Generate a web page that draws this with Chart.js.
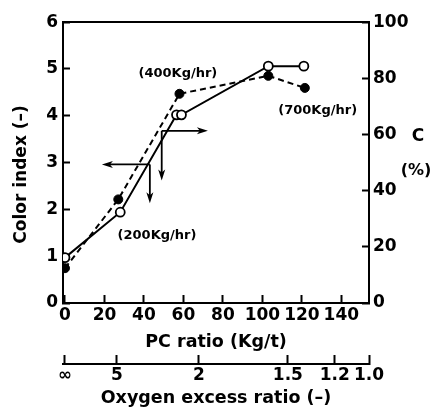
<!DOCTYPE html>
<html>
<head>
<meta charset="utf-8">
<script src="https://cdn.jsdelivr.net/npm/chart.js@4/dist/chart.umd.min.js"></script>
<style>
html, body { margin:0; padding:0; background:#fff; }
#wrap { width:432px; height:407px; }
</style>
</head>
<body>
<div id="wrap"><canvas id="chart"></canvas></div>
<script>
// open circles, solid line -> Color index (left axis)
const openPC = [0, 28, 56.5, 59, 103, 121];
const openColor = [0.97, 1.94, 4.02, 4.02, 5.06, 5.06];
// filled circles, dashed line -> C (%) (right axis)
const fullPC = [0, 27, 58, 103, 121.5];
const fullC = [12.4, 36.9, 74.5, 80.9, 76.6];

const pcTicks = [0, 20, 40, 60, 80, 100, 120, 140];
const colorTicks = [0, 1, 2, 3, 4, 5, 6];
const cTicks = [0, 20, 40, 60, 80, 100];
// oxygen excess ratio scale, placed against PC ratio
const oxygenPos = [0, 26.3, 67.8, 112.9, 136.7, 154];
const oxygenLabels = ['\u221e', '5', '2', '1.5', '1.2', '1.0'];

const notes = [
    { text:'(400Kg/hr)', x:57.2, y:4.91 },
    { text:'(700Kg/hr)', x:128, y:4.1 },
    { text:'(200Kg/hr)', x:46.6, y:1.45 }
];
const arrows = [
    { axis:'y2', x0:49, y0:61.3, x1:72.4, y1:61.3 },
    { axis:'y2', x0:49, y0:61.3, x1:49, y1:43.6 },
    { axis:'y', x0:43, y0:2.96, x1:18.7, y1:2.96 },
    { axis:'y', x0:43, y0:2.96, x1:43, y1:2.13 }
];

const FAM = 'DejaVu Sans';
const tickFont = { family:FAM, size:17, weight:'bold' };
const titleFont = { family:FAM, size:17.5, weight:'bold', lineHeight:1 };

function inwardGrid(len) {
    return { drawOnChartArea:false, drawTicks:true, tickLength:-len, tickWidth:2, tickColor:'#000' };
}
const border = { display:true, color:'#000', width:2 };

const extras = {
    id:'extras',
    afterDatasetsDraw(chart) {
        const ctx = chart.ctx;
        const xs = chart.scales.x;
        ctx.save();
        ctx.strokeStyle = '#000';
        ctx.fillStyle = '#000';
        ctx.lineWidth = 1.8;
        arrows.forEach(a => {
            const ys = chart.scales[a.axis];
            const px0 = xs.getPixelForValue(a.x0), py0 = ys.getPixelForValue(a.y0);
            const px1 = xs.getPixelForValue(a.x1), py1 = ys.getPixelForValue(a.y1);
            const ang = Math.atan2(py1 - py0, px1 - px0);
            ctx.beginPath();
            ctx.moveTo(px0, py0);
            ctx.lineTo(px1 - 6 * Math.cos(ang), py1 - 6 * Math.sin(ang));
            ctx.stroke();
            ctx.beginPath();
            ctx.moveTo(px1, py1);
            ctx.lineTo(px1 - 11 * Math.cos(ang) + 3.5 * Math.sin(ang), py1 - 11 * Math.sin(ang) - 3.5 * Math.cos(ang));
            ctx.lineTo(px1 - 8 * Math.cos(ang), py1 - 8 * Math.sin(ang));
            ctx.lineTo(px1 - 11 * Math.cos(ang) - 3.5 * Math.sin(ang), py1 - 11 * Math.sin(ang) + 3.5 * Math.cos(ang));
            ctx.closePath();
            ctx.fill();
        });
        ctx.font = 'bold 13px "' + FAM + '"';
        ctx.textAlign = 'center';
        ctx.textBaseline = 'middle';
        notes.forEach(n => {
            ctx.fillText(n.text, xs.getPixelForValue(n.x), chart.scales.y.getPixelForValue(n.y));
        });
        // right axis title
        const y2 = chart.scales.y2;
        ctx.font = 'bold 17px "' + FAM + '"';
        ctx.fillText('C', 418, y2.getPixelForValue(59.2));
        ctx.font = 'bold 16px "' + FAM + '"';
        ctx.fillText('(%)', 416, y2.getPixelForValue(47.2));
        ctx.restore();
    }
};

new Chart(document.getElementById('chart'), {
    type:'line',
    data:{
        datasets:[
            {
                label:'Color index',
                data:openPC.map((v, i) => ({ x:v, y:openColor[i] })),
                yAxisID:'y',
                borderColor:'#000',
                borderWidth:2,
                pointRadius:4.5,
                pointBorderWidth:1.8,
                pointBackgroundColor:'#fff',
                pointBorderColor:'#000',
                tension:0
            },
            {
                label:'C',
                data:fullPC.map((v, i) => ({ x:v, y:fullC[i] })),
                yAxisID:'y2',
                borderColor:'#000',
                borderWidth:2,
                borderDash:[6, 4],
                pointRadius:4.5,
                pointBorderWidth:1,
                pointBackgroundColor:'#000',
                pointBorderColor:'#000',
                tension:0
            }
        ]
    },
    options:{
        responsive:true,
        maintainAspectRatio:false,
        animation:false,
        layout:{ autoPadding:false, padding:{ top:21, left:0, right:0, bottom:0 } },
        plugins:{ legend:{ display:false }, tooltip:{ enabled:false } },
        scales:{
            x:{
                type:'linear', position:'bottom', weight:0, min:-1, max:154,
                afterBuildTicks:s => { s.ticks = pcTicks.map(v => ({ value:v })); },
                ticks:{ font:tickFont, color:'#000', padding:10, autoSkip:false, maxRotation:0 },
                grid:inwardGrid(8), border:border,
                title:{ display:true, text:'PC ratio (Kg/t)', font:titleFont, color:'#000', padding:{ top:0, bottom:13 } },
                afterFit:s => { s.height = 61; }
            },
            x2:{
                type:'linear', position:'bottom', weight:1, min:-1, max:154,
                afterBuildTicks:s => { s.ticks = oxygenPos.map(v => ({ value:v })); },
                ticks:{ font:tickFont, color:'#000', padding:10, autoSkip:false, maxRotation:0,
                        callback:(v, i) => oxygenLabels[i] },
                grid:inwardGrid(9), border:border,
                title:{ display:true, text:'Oxygen excess ratio (\u2013)', font:titleFont, color:'#000', padding:{ top:0, bottom:0 } },
                afterFit:s => { s.height = 43; }
            },
            xTop:{
                type:'linear', position:'top', min:-1, max:154,
                afterBuildTicks:s => { s.ticks = []; },
                ticks:{ display:false }, grid:{ display:false }, border:border,
                afterFit:s => { s.height = 0; }
            },
            y:{
                type:'linear', position:'left', min:0, max:6,
                afterBuildTicks:s => { s.ticks = colorTicks.map(v => ({ value:v })); },
                ticks:{ font:tickFont, color:'#000', padding:12 },
                grid:inwardGrid(7), border:border,
                title:{ display:true, text:'Color index (\u2013)    ', font:{ family:FAM, size:17, weight:'bold', lineHeight:1 }, color:'#000', padding:{ top:13, bottom:0 } },
                afterFit:s => { s.width = 63; }
            },
            y2:{
                type:'linear', position:'right', min:0, max:100,
                afterBuildTicks:s => { s.ticks = cTicks.map(v => ({ value:v })); },
                ticks:{ font:tickFont, color:'#000', padding:11 },
                grid:inwardGrid(7), border:border,
                afterFit:s => { s.width = 63; }
            }
        }
    },
    plugins:[extras]
});
</script>
</body>
</html>
